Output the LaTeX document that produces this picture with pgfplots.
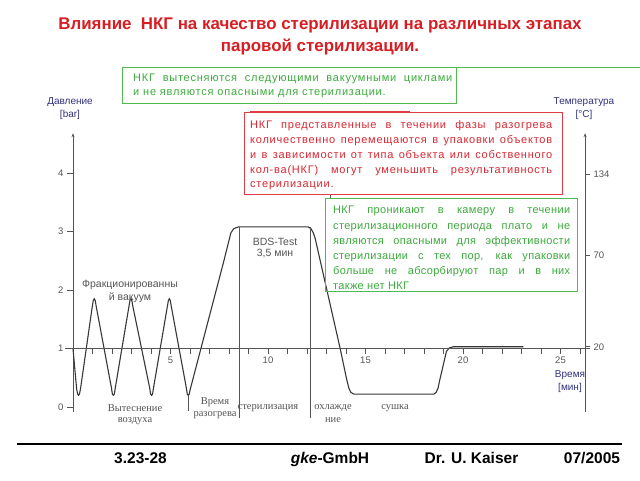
\documentclass[border=0pt]{standalone}
\usepackage{pgfplots}
\pgfplotsset{compat=1.18}
\usetikzlibrary{arrows.meta}
\usepackage{fontspec}
\setmainfont{Liberation Sans}
\newfontfamily\serif{Liberation Serif}
\newfontfamily\wide[LetterSpace=7]{Liberation Sans}
\newfontfamily\semiwide[LetterSpace=3]{Liberation Sans}

\definecolor{titlered}{RGB}{215,30,35}
\definecolor{boxgreen}{RGB}{80,185,80}
\definecolor{textgreen}{RGB}{60,170,60}
\definecolor{boxred}{RGB}{225,60,70}
\definecolor{textred}{RGB}{215,40,50}
\definecolor{navy}{RGB}{50,50,125}
\definecolor{curvegray}{RGB}{55,55,55}
\definecolor{axisgray}{RGB}{85,85,85}

\newcommand\jl[2]{\makebox[#1][s]{#2}}

\begin{document}
\begin{tikzpicture}[x=1pt,y=1pt]
\useasboundingbox (0,0) rectangle (640,480);
\fill[white] (0,0) rectangle (640,480);

% title
\node[text=titlered, font=\fontsize{16.9}{22}\selectfont\bfseries, align=center] at (320,444)
  {Влияние\ \ НКГ на качество стерилизации на различных этапах\\паровой стерилизации.};

% pressure axis (left) with the curve
\begin{axis}[
  at={(73pt,73pt)}, anchor=origin,
  x=19.5pt, y=58.5pt,
  xmin=0, xmax=26.26, ymin=-0.09, ymax=4.68,
  enlargelimits=false, clip=false,
  axis y line=left, axis x line=none,
  y axis line style={axisgray, line width=0.7pt, -{Stealth[length=4pt,width=3pt]}},
  ytick={0,1,2,3,4}, tick align=outside, major tick length=6pt,
  tick style={axisgray, line width=0.7pt},
  yticklabel style={font=\fontsize{9.5}{10}\selectfont, text=axisgray},
  /pgf/number format/assume math mode=true,
]
\addplot[curvegray, line width=1.1pt] coordinates {
(0,1.0) (0.12,0.55) (0.19,0.3) (0.24,0.22) (0.28,0.2) (0.33,0.22) (0.39,0.32)
(0.99,1.72) (1.04,1.82) (1.09,1.85) (1.14,1.82) (1.19,1.72)
(1.97,0.33) (2.02,0.22) (2.07,0.2) (2.12,0.22) (2.17,0.33)
(2.87,1.72) (2.92,1.82) (2.97,1.85) (3.02,1.82) (3.07,1.72)
(3.93,0.33) (3.98,0.22) (4.03,0.2) (4.08,0.22) (4.13,0.33)
(4.84,1.72) (4.89,1.82) (4.94,1.85) (4.99,1.82) (5.04,1.72)
(5.81,0.33) (5.86,0.22) (5.91,0.2) (5.96,0.22) (6.01,0.3)
(7.74,2.5) (8.0,2.85) (8.1,2.98) (8.25,3.05) (8.5,3.08)
(12.05,3.08) (12.2,3.05) (12.32,2.98) (12.42,2.88)
(13.7,1.0) (14.05,0.45) (14.15,0.32) (14.25,0.25) (14.4,0.22)
(18.5,0.22) (18.62,0.25) (18.72,0.32) (18.8,0.45) (19.15,0.95) (19.3,1.01) (19.5,1.03) (23.1,1.03)
};
% phase boundaries
\addplot[axisgray, line width=0.7pt] coordinates {(8.51,-0.19) (8.51,3.08)};
\addplot[axisgray, line width=0.7pt] coordinates {(12.15,-0.19) (12.15,3.08)};
\addplot[axisgray, line width=0.7pt] coordinates {(5.91,0.2) (5.91,-0.07)};
\end{axis}

% time axis, crossing at 1 bar
\begin{axis}[
  at={(73pt,131.5pt)}, anchor=origin,
  x=19.5pt, y=58.5pt,
  xmin=-0.41, xmax=26.5, ymin=-1.09, ymax=3.68,
  enlargelimits=false,
  axis x line=middle, axis y line=none,
  x axis line style={axisgray, line width=0.7pt, -},
  xtick={5,10,15,20,25}, minor xtick={1,...,26},
  tick align=outside, major tick length=5pt, minor tick length=5pt,
  tick style={axisgray, line width=0.7pt},
  xticklabel style={font=\fontsize{9.5}{10}\selectfont, text=axisgray},
  /pgf/number format/assume math mode=true,
]
\end{axis}

% temperature axis (right)
\begin{axis}[
  at={(73pt,73pt)}, anchor=origin,
  x=19.5pt, y=58.5pt,
  xmin=0, xmax=26.26, ymin=-0.09, ymax=4.68,
  enlargelimits=false,
  axis y line=right, axis x line=none,
  y axis line style={axisgray, line width=0.7pt, -{Stealth[length=4pt,width=3pt]}},
  ytick={1.03,2.6,3.98}, yticklabels={20,70,134},
  tick align=outside, major tick length=5pt,
  tick style={axisgray, line width=0.7pt},
  yticklabel style={font=\fontsize{9.5}{10}\selectfont, text=axisgray},
]
\end{axis}

% axis titles
\begin{scope}[every node/.style={text=navy, font=\fontsize{10}{11}\selectfont}]
\node at (70,378) {Давление};
\node at (70,365) {[bar]};
\node at (584,378) {Температура};
\node at (584,365) {[°C]};
\node at (570,105) {Время};
\node at (570,92) {[мин]};
\end{scope}

% labels on the curve
\begin{scope}[every node/.style={text=axisgray, font=\fontsize{10.5}{11}\selectfont}]
\node at (130,195) {Фракционированны};
\node at (130,182) {й вакуум};
\node at (275,238) {BDS-Test};
\node at (275,226) {3,5 мин};
\end{scope}

% phase names
\begin{scope}[every node/.style={text=axisgray, font=\serif\fontsize{10.5}{11}\selectfont}]
\node at (135,72) {Вытеснение};
\node at (135,59) {воздуха};
\node at (215,78) {Время};
\node at (215,65) {разогрева};
\node at (268,72) {стерилизация};
\node at (333,72) {охлажде};
\node at (333,60) {ние};
\node at (395,72) {сушка};
\end{scope}

% green box 1
\draw[boxgreen, line width=1pt] (122,376) rectangle (456,412);
\draw[boxgreen, line width=1pt] (456,412) -- (640,412);
\begin{scope}[every node/.style={text=textgreen, font=\wide\fontsize{11}{12}\selectfont, anchor=base west, inner sep=0pt}]
\node at (133,398) {\jl{319pt}{НКГ вытесняются следующими вакуумными циклами}};
\node at (133,384) {и не являются опасными для стерилизации.};
\end{scope}

% red box
\draw[boxred, line width=1pt] (244,285) rectangle (562,367);
\draw[boxred, line width=1.6pt] (250,368) -- (410,368);
\draw[axisgray, line width=0.6pt] (330,285) -- (330,281);
\begin{scope}[every node/.style={text=textred, font=\wide\fontsize{11}{12}\selectfont, anchor=base west, inner sep=0pt}]
\node at (250,351) {\jl{302pt}{НКГ представленные в течении фазы разогрева}};
\node at (250,336) {\jl{302pt}{количественно перемещаются в упаковки объектов}};
\node at (250,321) {\jl{302pt}{и в зависимости от типа объекта или собственного}};
\node at (250,306) {\jl{302pt}{кол-ва(НКГ) могут уменьшить результативность}};
\node at (250,292) {стерилизации.};
\end{scope}

% green box 2
\draw[boxgreen, line width=1pt] (325,189) rectangle (577,281);
\begin{scope}[every node/.style={text=textgreen, font=\semiwide\fontsize{11}{12}\selectfont, anchor=base west, inner sep=0pt}]
\node at (333,266) {\jl{237pt}{НКГ проникают в камеру в течении}};
\node at (333,251) {\jl{237pt}{стерилизационного периода плато и не}};
\node at (333,236) {\jl{237pt}{являются опасными для эффективности}};
\node at (333,221) {\jl{237pt}{стерилизации с тех пор, как упаковки}};
\node at (333,206) {\jl{237pt}{больше не абсорбируют пар и в них}};
\node at (333,191) {также нет НКГ};
\end{scope}

% footer
\draw[black, line width=2pt] (17,36) -- (622,36);
\begin{scope}[every node/.style={text=black, anchor=base, font=\bfseries\fontsize{15.5}{16}\selectfont}]
\node at (140.5,16.5) {3.23-28};
\node at (330,16.5) {{\itshape gke}-GmbH};
\node at (471.5,16.5) {Dr. U. Kaiser};
\node at (592,16.5) {07/2005};
\end{scope}
\end{tikzpicture}
\end{document}
